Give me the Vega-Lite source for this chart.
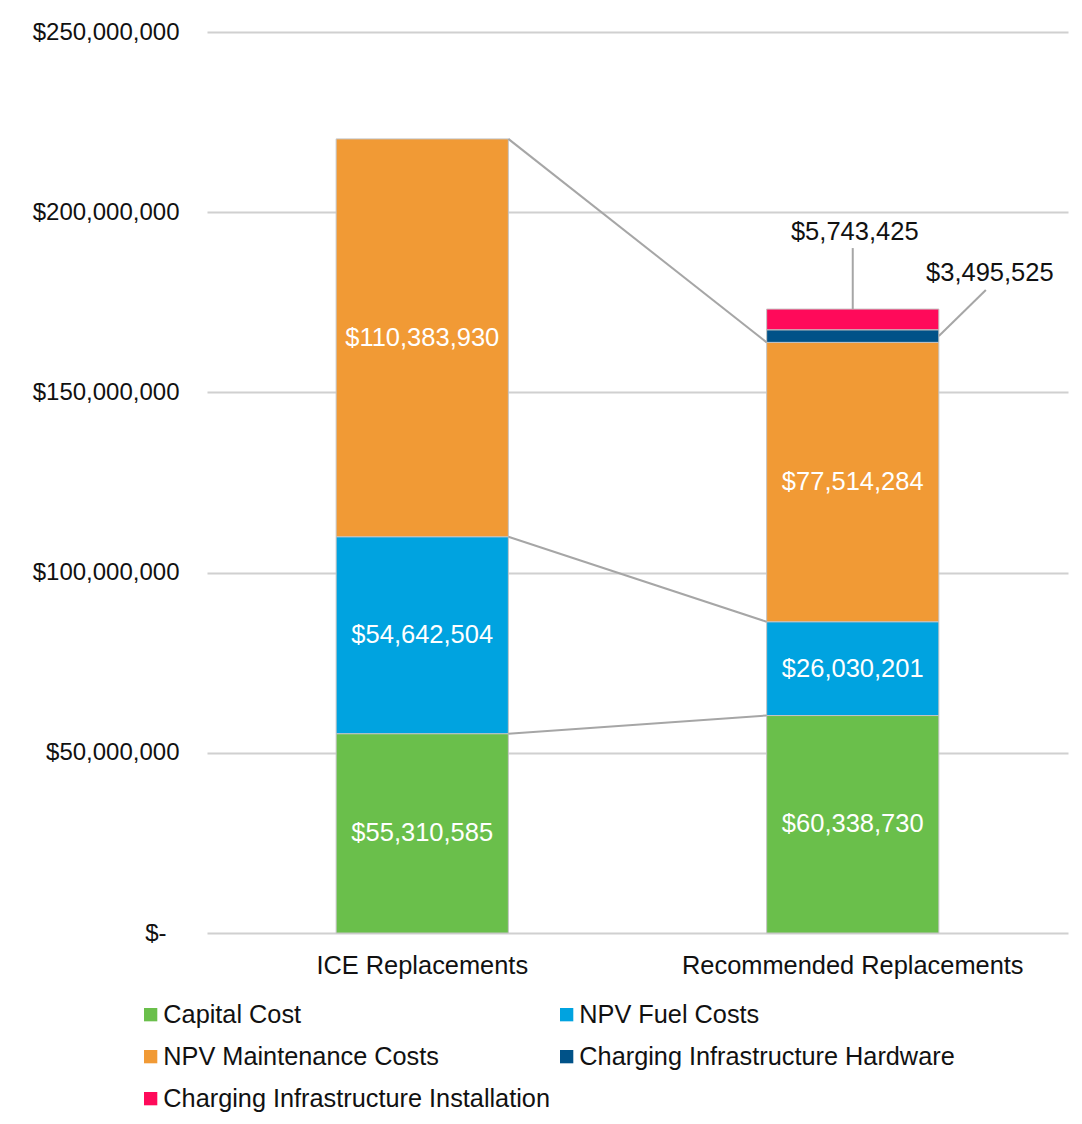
{
  "$schema": "https://vega.github.io/schema/vega-lite/v6.json",
  "width": 861,
  "height": 901,
  "autosize": {"type": "none"},
  "padding": {"left": 207, "top": 32, "right": 14, "bottom": 191},
  "background": "white",
  "config": {
    "font": "Liberation Sans",
    "view": {"stroke": null}
  },
  "data": {
    "values": [
      {"cat": "ICE Replacements", "series": "Capital Cost", "value": 55310585},
      {"cat": "ICE Replacements", "series": "NPV Fuel Costs", "value": 54642504},
      {"cat": "ICE Replacements", "series": "NPV Maintenance Costs", "value": 110383930},
      {"cat": "Recommended Replacements", "series": "Capital Cost", "value": 60338730},
      {"cat": "Recommended Replacements", "series": "NPV Fuel Costs", "value": 26030201},
      {"cat": "Recommended Replacements", "series": "NPV Maintenance Costs", "value": 77514284},
      {"cat": "Recommended Replacements", "series": "Charging Infrastructure Hardware", "value": 3495525},
      {"cat": "Recommended Replacements", "series": "Charging Infrastructure Installation", "value": 5743425}
    ]
  },
  "transform": [
    {"calculate": "indexof(['Capital Cost','NPV Fuel Costs','NPV Maintenance Costs','Charging Infrastructure Hardware','Charging Infrastructure Installation'], datum.series)", "as": "order"},
    {"stack": "value", "groupby": ["cat"], "sort": [{"field": "order", "order": "ascending"}], "as": ["y0", "y1"]},
    {"calculate": "(datum.y0 + datum.y1) / 2", "as": "mid"}
  ],
  "layer": [
    {
      "mark": {"type": "bar", "stroke": "#c4c4c4", "strokeWidth": 1},
      "encoding": {
        "x": {
          "field": "cat", "type": "nominal",
          "sort": ["ICE Replacements", "Recommended Replacements"],
          "scale": {"paddingInner": 0.6, "paddingOuter": 0.3},
          "axis": {"title": null, "labelAngle": 0, "labelFontSize": 25.4, "labelPadding": 20, "labelLimit": 0, "ticks": false, "domain": false, "labelColor": "#111111"}
        },
        "y": {
          "field": "y0", "type": "quantitative",
          "scale": {"domain": [0, 250000000], "nice": false},
          "axis": {
            "title": null,
            "values": [0, 50000000, 100000000, 150000000, 200000000, 250000000],
            "labelExpr": "datum.value == 0 ? '$-' : '$' + format(datum.value, ',')",
            "labelFontSize": 24, "labelColor": "#111111",
            "labelPadding": {"condition": {"test": "datum.value == 0", "value": 41}, "value": 28},
            "ticks": false, "domain": false,
            "gridColor": "#d0d0d0", "gridWidth": 2
          }
        },
        "y2": {"field": "y1"},
        "color": {
          "field": "series", "type": "nominal",
          "scale": {
            "domain": ["Capital Cost", "NPV Fuel Costs", "NPV Maintenance Costs", "Charging Infrastructure Hardware", "Charging Infrastructure Installation"],
            "range": ["#6abf4b", "#00a3e0", "#f19a35", "#005288", "#ff0a5a"]
          },
          "legend": {
            "orient": "none", "legendX": -69, "legendY": 970, "direction": "horizontal",
            "columns": 2, "title": null, "symbolType": "square", "symbolSize": 177,
            "symbolStrokeWidth": 0, "labelFontSize": 25.3, "labelColor": "#111111",
            "labelOffset": 0, "columnPadding": 4, "rowPadding": 16, "padding": 0, "labelLimit": 600
          }
        }
      }
    },
    {
      "transform": [
        {"pivot": "cat", "value": "y1", "groupby": ["series"], "op": "max"},
        {"filter": "isValid(datum['ICE Replacements']) && isValid(datum['Recommended Replacements'])"}
      ],
      "mark": {"type": "rule", "color": "#a6a6a6", "strokeWidth": 2},
      "encoding": {
        "x": {"datum": "ICE Replacements", "type": "nominal", "bandPosition": 1},
        "x2": {"datum": "Recommended Replacements", "bandPosition": 0},
        "y": {"field": "ICE Replacements", "type": "quantitative"},
        "y2": {"field": "Recommended Replacements"}
      }
    },
    {
      "transform": [{"filter": "datum.value > 10000000"}],
      "mark": {"type": "text", "color": "white", "fontSize": 25.5, "baseline": "middle"},
      "encoding": {
        "x": {"field": "cat", "type": "nominal"},
        "y": {"field": "mid", "type": "quantitative"},
        "text": {"field": "value", "type": "quantitative", "format": "$,.0f"}
      }
    },
    {
      "transform": [{"filter": "datum.series == 'Charging Infrastructure Installation'"}],
      "mark": {"type": "rule", "color": "#a6a6a6", "strokeWidth": 2, "y2Offset": -61},
      "encoding": {
        "x": {"field": "cat", "type": "nominal"},
        "y": {"field": "y1", "type": "quantitative"},
        "y2": {"field": "y1"}
      }
    },
    {
      "transform": [{"filter": "datum.series == 'Charging Infrastructure Installation'"}],
      "mark": {"type": "text", "color": "#111111", "fontSize": 25.5, "baseline": "middle", "yOffset": -77, "xOffset": 2},
      "encoding": {
        "x": {"field": "cat", "type": "nominal"},
        "y": {"field": "y1", "type": "quantitative"},
        "text": {"field": "value", "type": "quantitative", "format": "$,.0f"}
      }
    },
    {
      "transform": [{"filter": "datum.series == 'Charging Infrastructure Hardware'"}],
      "mark": {"type": "rule", "color": "#a6a6a6", "strokeWidth": 2, "x2Offset": 47, "y2Offset": -46},
      "encoding": {
        "x": {"field": "cat", "type": "nominal", "bandPosition": 1},
        "x2": {"field": "cat", "bandPosition": 1},
        "y": {"field": "mid", "type": "quantitative"},
        "y2": {"field": "mid"}
      }
    },
    {
      "transform": [{"filter": "datum.series == 'Charging Infrastructure Hardware'"}],
      "mark": {"type": "text", "color": "#111111", "fontSize": 25.5, "baseline": "middle", "xOffset": 51, "yOffset": -63},
      "encoding": {
        "x": {"field": "cat", "type": "nominal", "bandPosition": 1},
        "y": {"field": "mid", "type": "quantitative"},
        "text": {"field": "value", "type": "quantitative", "format": "$,.0f"}
      }
    }
  ]
}
